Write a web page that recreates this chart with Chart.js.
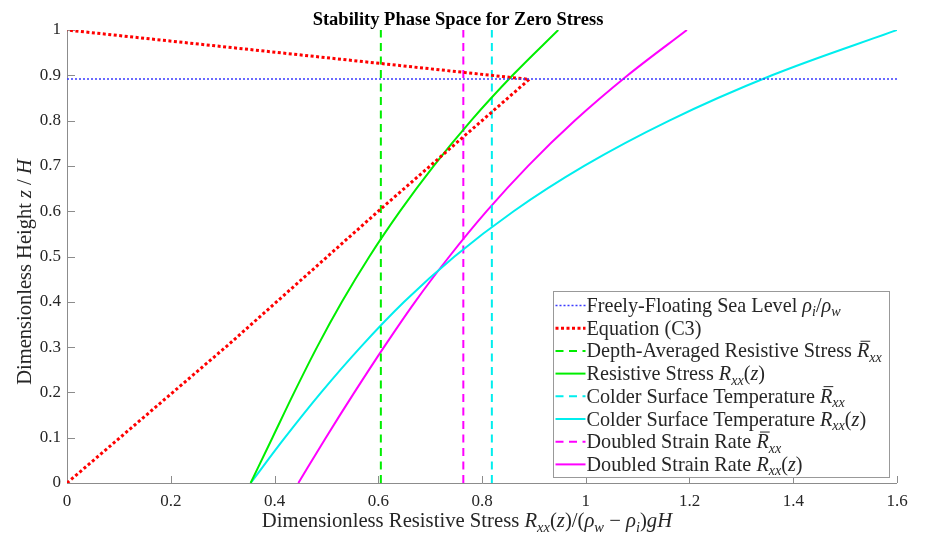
<!DOCTYPE html>
<html>
<head>
<meta charset="utf-8">
<script src="https://cdn.jsdelivr.net/npm/chart.js@4.4.0/dist/chart.umd.min.js"></script>
<style>
  body { margin: 0; background: #fff; }
  canvas { display: block; }
</style>
</head>
<body>
<canvas id="c" width="925" height="535"></canvas>
<script>
// values
const seaLevel = 0.892;            // rho_i / rho_w
const c3X = [0, 0.314, 0.603, 0.891, 0.507, 0];
const c3Z = [0, 0.308, 0.603, 0.891, 0.938, 1];

const levels = [0, 0.1, 0.2, 0.3, 0.4, 0.5, 0.6, 0.7, 0.8, 0.9, 1];
const resistX  = [0.354, 0.396, 0.438, 0.482, 0.530, 0.583, 0.642, 0.707, 0.779, 0.859, 0.947];
const colderX  = [0.354, 0.420, 0.490, 0.566, 0.650, 0.747, 0.861, 0.997, 1.161, 1.359, 1.600];
const doubledX = [0.446, 0.499, 0.554, 0.611, 0.671, 0.737, 0.809, 0.889, 0.979, 1.081, 1.195];

const resistAvg = 0.605;
const colderAvg = 0.819;
const doubledAvg = 0.764;

const xMin = 0, xMax = 1.6, xStep = 0.2;
const yMin = 0, yMax = 1, yStep = 0.1;

const FONT = '"Liberation Serif", "Times New Roman", serif';
const TXT = '#262626';
const AXIS = '#8c8c8c';

const pts = (xs, ys) => xs.map((x, i) => ({ x: x, y: ys[i] }));
const vline = x => [{ x: x, y: yMin }, { x: x, y: yMax }];

// legend texts, [text, kind]: n normal, i italic, s subscript, b barred italic
const legendRows = [
  [['Freely-Floating Sea Level ', 'n'], ['ρ', 'i'], ['i', 's'], ['/', 'n'], ['ρ', 'i'], ['w', 's']],
  [['Equation (C3)', 'n']],
  [['Depth-Averaged Resistive Stress ', 'n'], ['R', 'b'], ['xx', 's']],
  [['Resistive Stress ', 'n'], ['R', 'i'], ['xx', 's'], ['(', 'n'], ['z', 'i'], [')', 'n']],
  [['Colder Surface Temperature ', 'n'], ['R', 'b'], ['xx', 's']],
  [['Colder Surface Temperature ', 'n'], ['R', 'i'], ['xx', 's'], ['(', 'n'], ['z', 'i'], [')', 'n']],
  [['Doubled Strain Rate ', 'n'], ['R', 'b'], ['xx', 's']],
  [['Doubled Strain Rate ', 'n'], ['R', 'i'], ['xx', 's'], ['(', 'n'], ['z', 'i'], [')', 'n']]
];
const xLabel = [['Dimensionless Resistive Stress ', 'n'], ['R', 'i'], ['xx', 's'], ['(', 'n'], ['z', 'i'],
  [')/(', 'n'], ['ρ', 'i'], ['w', 's'], [' − ', 'n'], ['ρ', 'i'], ['i', 's'], [')', 'n'], ['g', 'i'], ['H', 'i']];
const yLabel = [['Dimensionless Height ', 'n'], ['z', 'i'], [' / ', 'n'], ['H', 'i']];

function segFont(kind, size) {
  const sz = kind === 's' ? size * 0.7 : size;
  return (kind === 'n' ? '' : 'italic ') + sz + 'px ' + FONT;
}

// draws a line of text with italic / subscript pieces
function drawRich(ctx, segs, x, y, size, align) {
  const widths = segs.map(([t, k]) => { ctx.font = segFont(k, size); return ctx.measureText(t).width; });
  const total = widths.reduce((a, b) => a + b, 0);
  let cx = align === 'center' ? x - total / 2 : x;
  ctx.textAlign = 'left';
  ctx.textBaseline = 'alphabetic';
  segs.forEach(([t, k], i) => {
    ctx.font = segFont(k, size);
    ctx.fillText(t, cx, k === 's' ? y + size * 0.22 : y);
    if (k === 'b') {
      ctx.save();
      ctx.lineWidth = 1;
      ctx.strokeStyle = ctx.fillStyle;
      ctx.beginPath();
      ctx.moveTo(cx + size * 0.18, y - size * 0.8);
      ctx.lineTo(cx + widths[i] + size * 0.05, y - size * 0.8);
      ctx.stroke();
      ctx.restore();
    }
    cx += widths[i];
  });
  return total;
}

// axes with inward ticks, labels, title and the legend box
const decorPlugin = {
  id: 'decor',
  beforeDatasetsDraw(chart) {
    const { ctx, chartArea, scales } = chart;
    ctx.save();
    ctx.strokeStyle = AXIS;
    ctx.lineWidth = 1;
    ctx.beginPath();
    ctx.moveTo(chartArea.left + 0.5, chartArea.top);
    ctx.lineTo(chartArea.left + 0.5, chartArea.bottom + 0.5);
    ctx.lineTo(chartArea.right, chartArea.bottom + 0.5);
    scales.x.ticks.forEach(t => {
      const px = Math.round(scales.x.getPixelForValue(t.value)) + 0.5;
      ctx.moveTo(px, chartArea.bottom);
      ctx.lineTo(px, chartArea.bottom - 7);
    });
    scales.y.ticks.forEach(t => {
      const py = Math.round(scales.y.getPixelForValue(t.value)) + 0.5;
      ctx.moveTo(chartArea.left, py);
      ctx.lineTo(chartArea.left + 8, py);
    });
    ctx.stroke();
    ctx.restore();
  },
  afterDraw(chart) {
    const { ctx } = chart;
    ctx.save();
    ctx.fillStyle = '#000';
    ctx.font = 'bold 18.5px ' + FONT;
    ctx.textAlign = 'center';
    ctx.textBaseline = 'alphabetic';
    ctx.fillText('Stability Phase Space for Zero Stress', 458, 25);

    ctx.fillStyle = TXT;
    drawRich(ctx, xLabel, 467, 527, 20.7, 'center');
    ctx.save();
    ctx.translate(31, 272);
    ctx.rotate(-Math.PI / 2);
    drawRich(ctx, yLabel, 0, 0, 20.5, 'center');
    ctx.restore();

    // legend
    const bx = 553.5, by = 291.5, bw = 336, bh = 186;
    ctx.fillStyle = '#fff';
    ctx.fillRect(bx, by, bw, bh);
    ctx.strokeStyle = '#999';
    ctx.lineWidth = 1;
    ctx.strokeRect(bx, by, bw, bh);
    legendRows.forEach((row, i) => {
      const ds = chart.data.datasets[i];
      const cy = by + 14 + i * 22.7;
      ctx.save();
      ctx.strokeStyle = ds.borderColor;
      ctx.lineWidth = ds.borderWidth;
      ctx.setLineDash(ds.borderDash || []);
      ctx.beginPath();
      ctx.moveTo(bx + 2, cy);
      ctx.lineTo(bx + 32, cy);
      ctx.stroke();
      ctx.restore();
      ctx.fillStyle = TXT;
      drawRich(ctx, row, bx + 33, cy + 6.5, 20.2, 'left');
    });
    ctx.restore();
  }
};

const line = (data, color, width, dash, smooth) => ({
  data: data,
  borderColor: color,
  borderWidth: width,
  borderDash: dash,
  showLine: true,
  pointRadius: 0,
  fill: false,
  cubicInterpolationMode: smooth ? 'monotone' : 'default',
  tension: 0
});

new Chart(document.getElementById('c'), {
  type: 'scatter',
  data: {
    datasets: [
      line([{ x: xMin, y: seaLevel }, { x: xMax, y: seaLevel }], '#3a3aff', 1.5, [2, 2], false),
      line(pts(c3X, c3Z), '#ff0000', 3, [3, 2.5], false),
      line(vline(resistAvg), '#00ee00', 2, [8, 5.5], false),
      line(pts(resistX, levels), '#00ee00', 2, [], true),
      line(vline(colderAvg), '#00eeee', 2, [8, 5.5], false),
      line(pts(colderX, levels), '#00eeee', 2, [], true),
      line(vline(doubledAvg), '#ff00ff', 2, [8, 5.5], false),
      line(pts(doubledX, levels), '#ff00ff', 2, [], true)
    ]
  },
  options: {
    responsive: false,
    animation: false,
    layout: { padding: { top: 30, right: 28, left: 0, bottom: 0 } },
    plugins: { legend: { display: false }, tooltip: { enabled: false }, title: { display: false } },
    scales: {
      x: {
        type: 'linear', min: xMin, max: xMax,
        grid: { display: false, drawTicks: false },
        border: { display: false },
        afterFit: s => { s.height = 52; },
        ticks: {
          stepSize: xStep, padding: 8, color: TXT, maxRotation: 0,
          font: { family: FONT, size: 17 },
          callback: v => String(Number(v.toFixed(1)))
        }
      },
      y: {
        type: 'linear', min: yMin, max: yMax,
        grid: { display: false, drawTicks: false },
        border: { display: false },
        afterFit: s => { s.width = 67; },
        ticks: {
          stepSize: yStep, padding: 6, color: TXT,
          font: { family: FONT, size: 17 },
          callback: v => String(Number(v.toFixed(1)))
        }
      }
    }
  },
  plugins: [decorPlugin]
});
</script>
</body>
</html>
